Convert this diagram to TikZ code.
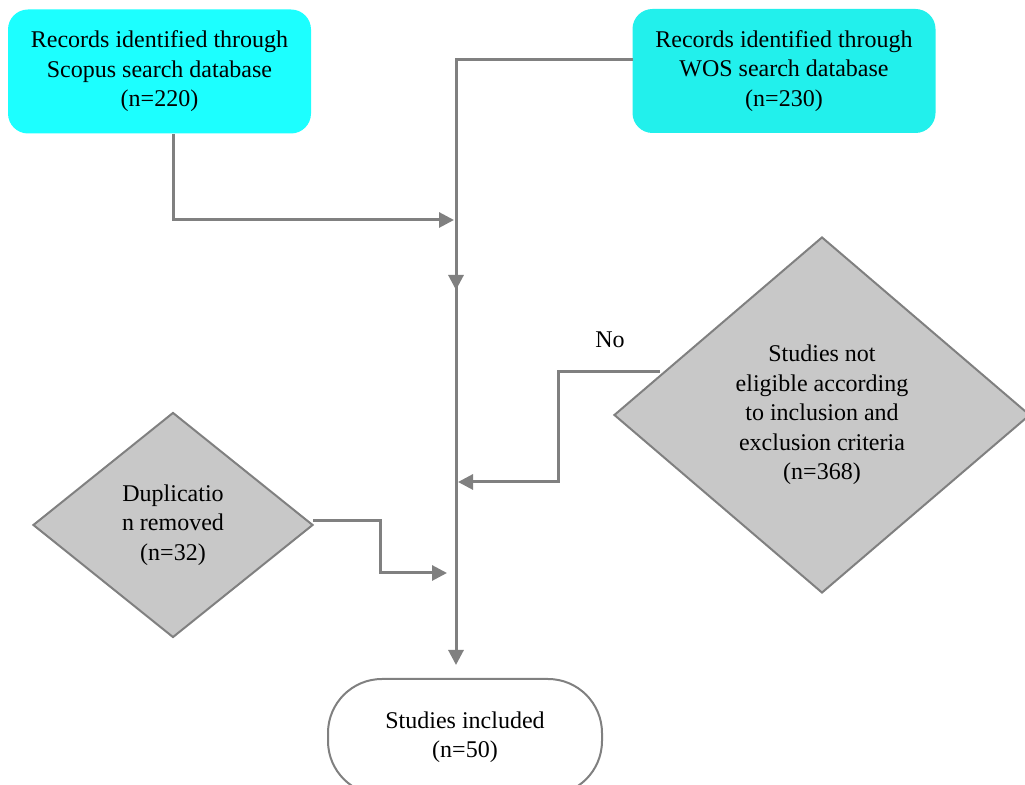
\documentclass[tikz,border=0pt]{standalone}
\usepackage{fontspec}
\setmainfont{Liberation Serif}
\usetikzlibrary{shapes.geometric,arrows.meta}
\definecolor{scopuscyan}{RGB}{28,255,255}
\definecolor{woscyan}{RGB}{34,240,236}
\definecolor{linegray}{RGB}{128,128,128}
\definecolor{diagray}{RGB}{200,200,200}
\tikzstyle{every node}=[font=\fontsize{12}{14.75}\selectfont, align=center]
\tikzstyle{source}=[rectangle, rounded corners=10pt, minimum width=151.5pt, minimum height=62pt, inner sep=0pt]
\tikzstyle{decision}=[diamond, draw=linegray, line width=1pt, fill=diagray, inner sep=0pt]
\tikzstyle{flow}=[draw=linegray, line width=1.5pt, -{Triangle[length=7.5pt,width=7.5pt]}]

\begin{document}
\begin{tikzpicture}[x=0.5pt,y=-0.5pt]
\useasboundingbox (0,0) rectangle (1025,785);
% sources
\node[source,fill=scopuscyan] (scopus) at (159.5,71.5) {Records identified through\\Scopus search database\\(n=220)};
\node[source,fill=woscyan] (wos) at (784,71) {Records identified through\\WOS search database\\(n=230)};
% decisions
\node[decision, minimum width=208pt, minimum height=178pt] (crit) at (822,415) {Studies not\\eligible according\\to inclusion and\\exclusion criteria\\(n=368)};
\node[decision, minimum width=140pt, minimum height=112.5pt] (dup) at (173,525) {Duplicatio\\n removed\\(n=32)};
\node[draw=linegray, line width=1pt, rounded corners=27pt, minimum width=137pt, minimum height=58pt] (incl) at (465,737) {Studies included\\(n=50)};
\node (no) at (610,340) {No};
% joints
\coordinate (scopusout) at (173,134);
\coordinate (scopusin) at (454,220);
\coordinate (wosout) at (633,60);
\coordinate (mid) at (456,290);
\coordinate (inend) at (456,665);
\coordinate (critout) at (660,372);
\coordinate (critbend) at (558,482);
\coordinate (critin) at (458,482);
\coordinate (dupout) at (313,521);
\coordinate (dupbend) at (380,573);
\coordinate (dupin) at (447,573);
\draw[flow] (wosout) -| (inend);
\draw[flow] (wosout) -| (mid);
\draw[flow] (scopusout) |- (scopusin);
\draw[flow] (critout) -| (critbend) -- (critin);
\draw[flow] (dupout) -| (dupbend) -- (dupin);
\end{tikzpicture}
\end{document}
